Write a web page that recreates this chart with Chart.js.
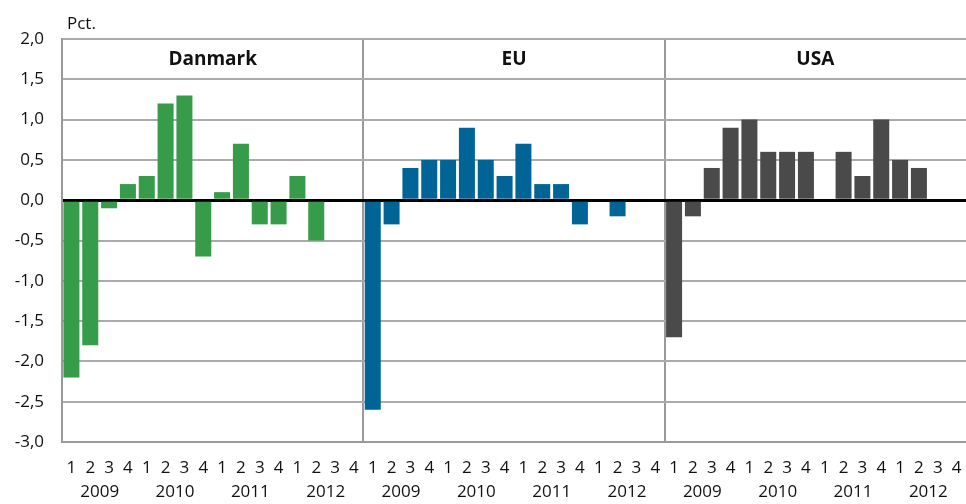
<!DOCTYPE html>
<html>
<head>
<meta charset="utf-8">
<script src="https://cdn.jsdelivr.net/npm/chart.js@4"></script>
<style>
  html, body { margin: 0; padding: 0; background: #fff; }
  #wrap { width: 966px; height: 504px; position: relative; }
</style>
</head>
<body>
<div id="wrap"><canvas id="myChart" width="966" height="504"></canvas></div>
<script>
// DATA
var panels = ['Danmark', 'EU', 'USA'];
var years = ['2009', '2010', '2011', '2012'];
var quarters = ['1', '2', '3', '4'];

var danmark = [-2.2, -1.8, -0.1, 0.2, 0.3, 1.2, 1.3, -0.7, 0.1, 0.7, -0.3, -0.3, 0.3, -0.5, null, null];
var eu      = [-2.6, -0.3, 0.4, 0.5, 0.5, 0.9, 0.5, 0.3, 0.7, 0.2, 0.2, -0.3, null, -0.2, null, null];
var usa     = [-1.7, -0.2, 0.4, 0.9, 1.0, 0.6, 0.6, 0.6, null, 0.6, 0.3, 1.0, 0.5, 0.4, null, null];

var panelColors = ['#369c49', '#006596', '#4a4a4a'];
var yTicks = [-3, -2.5, -2, -1.5, -1, -0.5, 0, 0.5, 1, 1.5, 2];

var FONT = '"Open Sans", "Noto Sans", sans-serif';

// build labels / values / colours
var labels = [];
var values = [];
var colors = [];
[danmark, eu, usa].forEach(function (serie, p) {
    serie.forEach(function (v, i) {
        labels.push(quarters[i % 4]);
        values.push(v);
        colors.push(panelColors[p]);
    });
});
var perPanel = danmark.length;

// extra texts: Pct., panel titles, years
var textPlugin = {
    id: 'texts',
    afterDraw: function (chart) {
        var ctx = chart.ctx;
        var x = chart.scales.x;
        var area = chart.chartArea;
        ctx.save();
        ctx.fillStyle = '#111';
        ctx.textBaseline = 'middle';

        ctx.font = '17px ' + FONT;
        ctx.textAlign = 'left';
        ctx.fillText('Pct.', area.left + 5, 24);

        ctx.font = 'bold 19px ' + FONT;
        ctx.textAlign = 'center';
        panels.forEach(function (name, p) {
            var a = x.getPixelForValue(p * perPanel);
            var b = x.getPixelForValue(p * perPanel + perPanel - 1);
            ctx.fillText(name, (a + b) / 2, 60);
        });

        ctx.font = '17px ' + FONT;
        panels.forEach(function (name, p) {
            years.forEach(function (yr, j) {
                var i = p * perPanel + j * 4;
                var cx = (x.getPixelForValue(i + 1) + x.getPixelForValue(i + 2)) / 2;
                ctx.fillText(yr, cx, 492);
            });
        });
        ctx.restore();
    }
};

var config = {
    type: 'bar',
    data: {
        labels: labels,
        datasets: [{
            data: values,
            backgroundColor: colors,
            borderWidth: 0,
            barPercentage: 0.85,
            categoryPercentage: 1.0
        }]
    },
    options: {
        responsive: false,
        animation: false,
        layout: { padding: { top: 39, right: 0, left: 0, bottom: 0 } },
        plugins: {
            legend: { display: false },
            tooltip: { enabled: false }
        },
        scales: {
            x: {
                offset: true,
                grid: {
                    offset: true,
                    drawTicks: false,
                    lineWidth: 2,
                    color: function (c) {
                        return (c.index % perPanel === 0) ? '#9a9a9a' : 'rgba(0,0,0,0)';
                    }
                },
                border: { display: true, color: '#9a9a9a', width: 2 },
                ticks: {
                    autoSkip: false,
                    maxRotation: 0,
                    padding: 16,
                    color: '#111',
                    font: { family: FONT, size: 17 }
                },
                afterFit: function (s) {
                    s.height = 62;
                    s.paddingLeft = 0;
                    s.paddingRight = 0;
                }
            },
            y: {
                min: -3,
                max: 2,
                afterBuildTicks: function (s) {
                    s.ticks = yTicks.map(function (v) { return { value: v }; });
                },
                grid: {
                    drawTicks: false,
                    lineWidth: function (c) { return c.tick && c.tick.value === 0 ? 3 : 2; },
                    color: function (c) { return c.tick && c.tick.value === 0 ? '#000' : '#ababab'; }
                },
                border: { display: true, color: '#9a9a9a', width: 2 },
                ticks: {
                    padding: 18,
                    color: '#111',
                    font: { family: FONT, size: 17 },
                    callback: function (v) { return v.toFixed(1).replace('.', ','); }
                },
                afterFit: function (s) { s.width = 62; }
            }
        }
    },
    plugins: [textPlugin]
};

var myChart = new Chart(document.getElementById('myChart'), config);
</script>
</body>
</html>
